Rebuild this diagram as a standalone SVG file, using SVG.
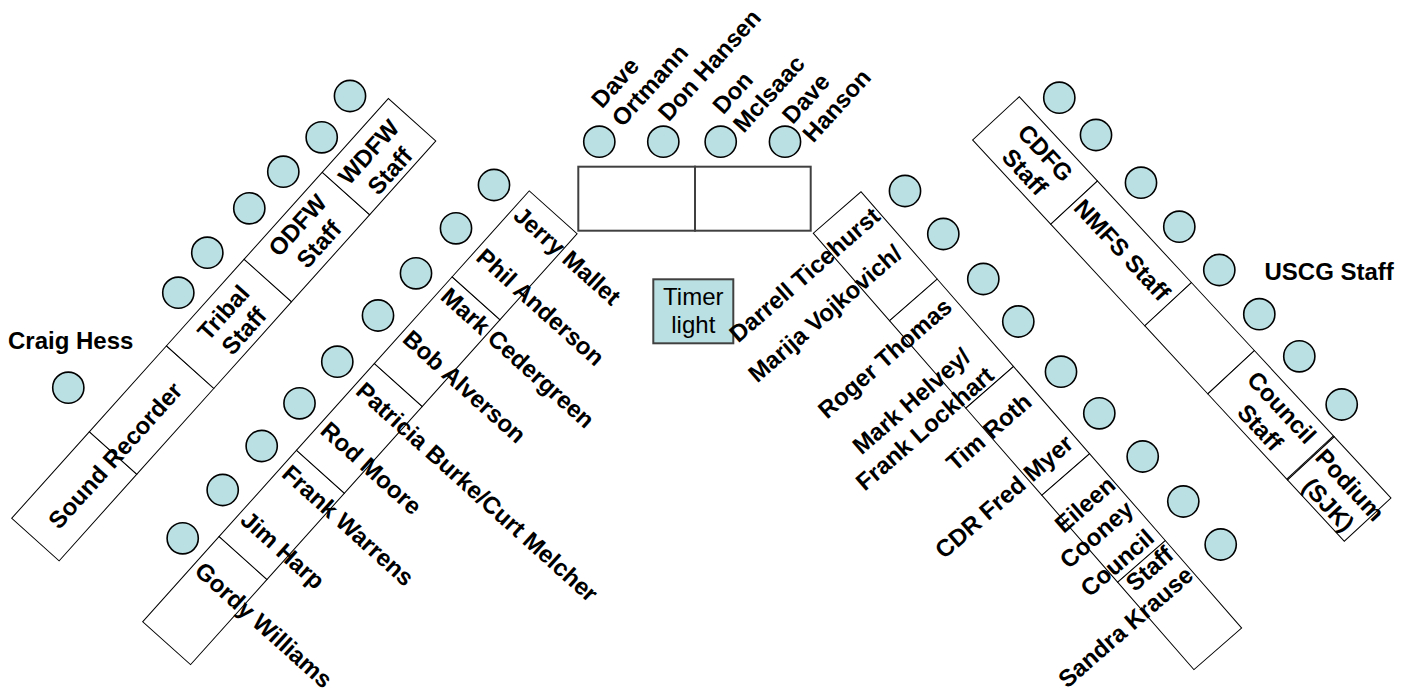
<svg xmlns="http://www.w3.org/2000/svg" width="1412" height="696" viewBox="0 0 1412 696">
<style>
.cell{fill:#fff;stroke:#000;stroke-width:1}
.dark{fill:#fff;stroke:#404040;stroke-width:2}
.seat{fill:#BBE0E3;stroke:#000;stroke-width:1.6}
.lbl{font-family:"Liberation Sans",Arial,sans-serif;font-weight:bold;font-size:24px;fill:#000}
.reg{font-family:"Liberation Sans",Arial,sans-serif;font-size:24px;fill:#000}
.c{text-anchor:middle}
.e{text-anchor:end}
</style>
<rect width="1412" height="696" fill="#fff"/>

<!-- Left table A -->
<g id="table-a" transform="translate(11.7,518.3) rotate(-48.1)">
  <rect class="cell" x="0" y="0" width="116.3" height="63.7"/>
  <rect class="cell" x="116.3" y="0" width="115.4" height="63.7"/>
  <rect class="cell" x="231.7" y="0" width="116.3" height="63.7"/>
  <rect class="cell" x="348" y="0" width="117" height="63.7"/>
  <rect class="cell" x="465" y="0" width="99" height="63.7"/>
  <text class="lbl c" x="116" y="35" dy="0.35em">Sound Recorder</text>
  <text class="lbl c"><tspan x="294.5" y="20" dy="0.35em">Tribal</tspan><tspan x="294.5" y="47.7" dy="0.35em">Staff</tspan></text>
  <text class="lbl c"><tspan x="409" y="17" dy="0.35em">ODFW</tspan><tspan x="409" y="45.5" dy="0.35em">Staff</tspan></text>
  <text class="lbl c"><tspan x="511" y="21" dy="0.35em">WDFW</tspan><tspan x="511" y="49.5" dy="0.35em">Staff</tspan></text>
</g>
<g id="seats-a">
  <circle class="seat" cx="178.3" cy="292.7" r="15.6"/>
  <circle class="seat" cx="207.3" cy="252.7" r="15.6"/>
  <circle class="seat" cx="249.3" cy="208.3" r="15.6"/>
  <circle class="seat" cx="283.3" cy="171.7" r="15.6"/>
  <circle class="seat" cx="321.7" cy="137.3" r="15.6"/>
  <circle class="seat" cx="350" cy="96" r="15.6"/>
</g>

<!-- Craig Hess -->
<g id="craig-hess">
  <text class="lbl" x="8" y="349.3">Craig Hess</text>
  <circle class="seat" cx="68.3" cy="387.7" r="15.6"/>
</g>

<!-- Table B -->
<g id="table-b" transform="translate(142.7,621.7) rotate(-48.1)">
  <rect class="cell" x="0" y="0" width="114.4" height="64.3"/>
  <rect class="cell" x="114.4" y="0" width="115.9" height="64.3"/>
  <rect class="cell" x="230.3" y="0" width="116.6" height="64.3"/>
  <rect class="cell" x="346.9" y="0" width="116.4" height="64.3"/>
  <rect class="cell" x="463.3" y="0" width="115.5" height="64.3"/>
  <text class="lbl" transform="translate(556,5) rotate(90)" dy="0.35em">Jerry Mallet</text>
  <text class="lbl" transform="translate(500,5) rotate(90)" dy="0.35em">Phil Anderson</text>
  <text class="lbl" transform="translate(447,5) rotate(90)" dy="0.35em">Mark Cedergreen</text>
  <text class="lbl" transform="translate(390,5) rotate(90)" dy="0.35em">Bob Alverson</text>
  <text class="lbl" transform="translate(320,5) rotate(90)" dy="0.35em">Patricia Burke/Curt Melcher</text>
  <text class="lbl" transform="translate(267,5) rotate(90)" dy="0.35em">Rod Moore</text>
  <text class="lbl" transform="translate(209,5) rotate(90)" dy="0.35em">Frank Warrens</text>
  <text class="lbl" transform="translate(147,5) rotate(90)" dy="0.35em">Jim Harp</text>
  <text class="lbl" transform="translate(78.5,5) rotate(90)" dy="0.35em">Gordy Williams</text>
</g>
<g id="seats-b">
  <circle class="seat" cx="494" cy="185" r="15.6"/>
  <circle class="seat" cx="456" cy="228.3" r="15.6"/>
  <circle class="seat" cx="416" cy="273.3" r="15.6"/>
  <circle class="seat" cx="378" cy="315.5" r="15.6"/>
  <circle class="seat" cx="337.3" cy="361.7" r="15.6"/>
  <circle class="seat" cx="299.5" cy="403.3" r="15.6"/>
  <circle class="seat" cx="261.7" cy="446" r="15.6"/>
  <circle class="seat" cx="222.7" cy="490" r="15.6"/>
  <circle class="seat" cx="182.7" cy="538.3" r="15.6"/>
</g>

<!-- Top table -->
<g id="table-top">
  <rect class="dark" x="578.3" y="166.7" width="116.7" height="64"/>
  <rect class="dark" x="695" y="166.7" width="115.7" height="64"/>
</g>
<g id="seats-top">
  <circle class="seat" cx="599.3" cy="141.7" r="15.6"/>
  <circle class="seat" cx="663.3" cy="141.7" r="15.6"/>
  <circle class="seat" cx="720.7" cy="141.7" r="15.6"/>
  <circle class="seat" cx="785" cy="141.7" r="15.6"/>
</g>
<g id="labels-top">
  <text class="lbl" transform="translate(595.8,103.8) rotate(-48)"><tspan x="0" y="0" dy="0.35em">Dave</tspan><tspan x="0" y="27.6" dy="0.35em">Ortmann</tspan></text>
  <text class="lbl" transform="translate(662.4,117) rotate(-48)" dy="0.35em">Don Hansen</text>
  <text class="lbl" transform="translate(716.9,109.8) rotate(-48)"><tspan x="0" y="0" dy="0.35em">Don</tspan><tspan x="0" y="27.6" dy="0.35em">McIsaac</tspan></text>
  <text class="lbl" transform="translate(786.6,119.6) rotate(-48)"><tspan x="0" y="0" dy="0.35em">Dave</tspan><tspan x="0" y="27.6" dy="0.35em">Hanson</tspan></text>
</g>

<!-- Timer light -->
<g id="timer-light">
  <rect x="653.3" y="279.3" width="80" height="64" fill="#BBE0E3" stroke="#404040" stroke-width="2"/>
  <text class="reg c" x="693.3" y="305">Timer</text>
  <text class="reg c" x="693.3" y="333.3">light</text>
</g>

<!-- Table C -->
<g id="table-c" transform="translate(861,191.7) rotate(48.9)">
  <rect class="cell" x="0" y="0" width="116" height="63.3"/>
  <rect class="cell" x="116" y="0" width="116" height="63.3"/>
  <rect class="cell" x="232" y="0" width="115.7" height="63.3"/>
  <rect class="cell" x="347.7" y="0" width="115.3" height="63.3"/>
  <rect class="cell" x="463" y="0" width="116" height="63.3"/>
  <text class="lbl e" transform="translate(25.4,2) rotate(-90)" dy="0.35em">Darrell Ticehurst</text>
  <text class="lbl e" transform="translate(68,10) rotate(-90)" dy="0.35em">Marija Vojkovich/</text>
  <text class="lbl e" transform="translate(141,7.5) rotate(-90)" dy="0.35em">Roger Thomas</text>
  <text class="lbl c" transform="translate(190.8,99.7) rotate(-90)" dy="0.35em">Mark Helvey/</text>
  <text class="lbl c" transform="translate(220.3,107.7) rotate(-90)" dy="0.35em">Frank Lockhart</text>
  <text class="lbl e" transform="translate(265,10) rotate(-90)" dy="0.35em">Tim Roth</text>
  <text class="lbl e" transform="translate(323.6,6) rotate(-90)" dy="0.35em">CDR Fred Myer</text>
  <text class="lbl e" transform="translate(382.7,1.5) rotate(-90)" dy="0.35em">Eileen</text>
  <text class="lbl e" transform="translate(413,3.9) rotate(-90)" dy="0.35em">Cooney</text>
  <text class="lbl e" transform="translate(448,6.9) rotate(-90)" dy="0.35em">Council</text>
  <text class="lbl e" transform="translate(473.6,3.7) rotate(-90)" dy="0.35em">Staff</text>
  <text class="lbl e" transform="translate(501.8,2.1) rotate(-90)" dy="0.35em">Sandra Krause</text>
</g>
<g id="seats-c">
  <circle class="seat" cx="905" cy="191" r="15.6"/>
  <circle class="seat" cx="943.3" cy="234" r="15.6"/>
  <circle class="seat" cx="983.3" cy="279" r="15.6"/>
  <circle class="seat" cx="1018.3" cy="321.5" r="15.6"/>
  <circle class="seat" cx="1061" cy="371.7" r="15.6"/>
  <circle class="seat" cx="1099.3" cy="413.3" r="15.6"/>
  <circle class="seat" cx="1142.7" cy="456.5" r="15.6"/>
  <circle class="seat" cx="1183.3" cy="501.5" r="15.6"/>
  <circle class="seat" cx="1220.7" cy="544.5" r="15.6"/>
</g>

<!-- Table D -->
<g id="table-d" transform="translate(1019.3,96.7) rotate(47.2)">
  <rect class="cell" x="0" y="0" width="115" height="63.6"/>
  <rect class="cell" x="115" y="0" width="138.4" height="63.6"/>
  <rect class="cell" x="253.4" y="0" width="92.7" height="63.6"/>
  <rect class="cell" x="346.1" y="0" width="117.4" height="63.6" stroke-width="1.5"/>
  <rect class="cell" x="463.5" y="0" width="83.5" height="63.6"/>
  <line x1="462.3" y1="0" x2="462.3" y2="63.6" stroke="#000" stroke-width="1"/>
  <text class="lbl c"><tspan x="59" y="19" dy="0.35em">CDFG</tspan><tspan x="59" y="47" dy="0.35em">Staff</tspan></text>
  <text class="lbl c" x="182.4" y="28.6" dy="0.35em">NMFS Staff</text>
  <text class="lbl c"><tspan x="406.3" y="18.4" dy="0.35em">Council</tspan><tspan x="406.3" y="47.9" dy="0.35em">Staff</tspan></text>
  <text class="lbl c"><tspan x="509.5" y="21" dy="0.35em">Podium</tspan><tspan x="509.5" y="50.4" dy="0.35em">(SJK)</tspan></text>
</g>
<g id="seats-d">
  <circle class="seat" cx="1059.3" cy="97.7" r="15.6"/>
  <circle class="seat" cx="1096" cy="135" r="15.6"/>
  <circle class="seat" cx="1141" cy="182.7" r="15.6"/>
  <circle class="seat" cx="1179.3" cy="226.7" r="15.6"/>
  <circle class="seat" cx="1219.3" cy="270" r="15.6"/>
  <circle class="seat" cx="1259.3" cy="314.2" r="15.6"/>
  <circle class="seat" cx="1299.3" cy="356.3" r="15.6"/>
  <circle class="seat" cx="1341.7" cy="404.5" r="15.6"/>
</g>

<g id="uscg-staff">
  <text class="lbl" x="1264.5" y="280">USCG Staff</text>
</g>

<g id="connectors"/>
</svg>
